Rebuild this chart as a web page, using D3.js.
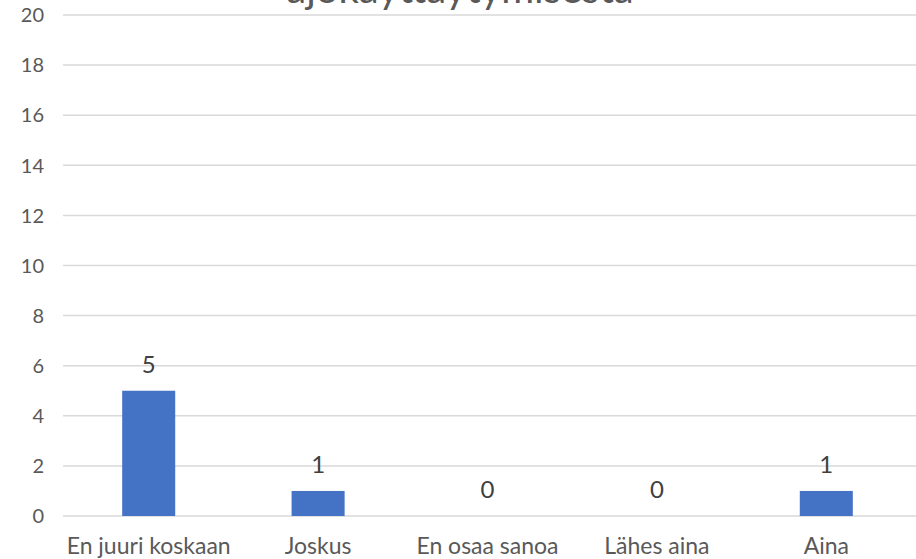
<!DOCTYPE html>
<html><head><meta charset="utf-8">
<script src="https://cdn.jsdelivr.net/npm/d3@7"></script>
<style>html,body{margin:0;padding:0;background:#fff;overflow:hidden}</style>
</head><body>
<svg id="c" width="916" height="559"></svg>
<script>
const title = "ajokäyttäytymisestä";
const categories = ["En juuri koskaan", "Joskus", "En osaa sanoa", "Lähes aina", "Aina"];
const values = [5, 1, 0, 0, 1];
const yTicks = [0, 2, 4, 6, 8, 10, 12, 14, 16, 18, 20];

const svg = d3.select("#c");
const font = "Lato, 'Open Sans', sans-serif";
const textColor = "#595959";
const x = d3.scaleBand().domain(categories).range([64, 911]).paddingInner(0.687).paddingOuter(0.3435);
const y = d3.scaleLinear().domain([0, 20]).range([516, 15]);

// grid
svg.append("g").selectAll("line").data(yTicks).join("line")
  .attr("x1", 63).attr("x2", 916)
  .attr("y1", d => y(d)).attr("y2", d => y(d))
  .attr("stroke", "#d9d9d9").attr("stroke-width", 1.5);

// y labels
svg.append("g").selectAll("text").data(yTicks).join("text")
  .attr("x", 44).attr("y", d => y(d)).attr("dy", "0.36em")
  .attr("text-anchor", "end").attr("fill", textColor)
  .style("font-family", font).style("font-size", "20px").text(d => d);

// bars
svg.append("g").selectAll("rect").data(values).join("rect")
  .attr("x", (d, i) => x(categories[i])).attr("width", x.bandwidth())
  .attr("y", d => y(d)).attr("height", d => y(0) - y(d))
  .attr("fill", "#4472C4");

// data labels
svg.append("g").selectAll("text").data(values).join("text")
  .attr("x", (d, i) => x(categories[i]) + x.bandwidth() / 2)
  .attr("y", d => y(d) - 18)
  .attr("text-anchor", "middle").attr("fill", "#404040")
  .style("font-family", font).style("font-size", "24px").text(d => d);

// category labels
svg.append("g").selectAll("text").data(categories).join("text")
  .attr("x", d => x(d) + x.bandwidth() / 2).attr("y", 554)
  .attr("text-anchor", "middle").attr("fill", textColor)
  .style("font-family", font).style("font-size", "23px").text(d => d);

// title (clipped at top)
svg.append("text").attr("x", 460).attr("y", 3)
  .attr("text-anchor", "middle").attr("fill", textColor)
  .style("font-family", font).style("font-size", "40px").text(title);
</script>
</body></html>
